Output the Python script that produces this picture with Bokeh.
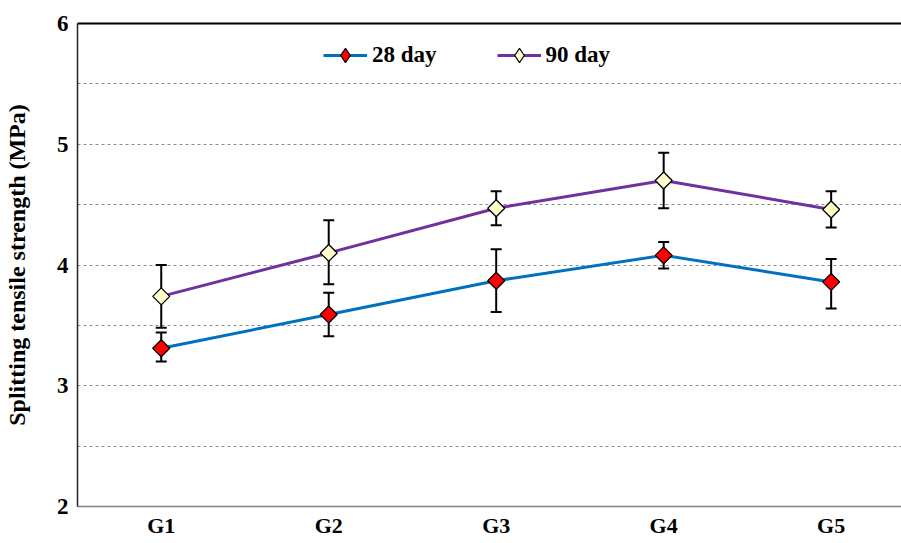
import math
from bokeh.plotting import figure
from bokeh.models import (FixedTicker, LinearAxis, Range1d, Legend, LegendItem,
                          ColumnDataSource)
from bokeh.embed import file_html
from bokeh.resources import INLINE

groups = ["G1", "G2", "G3", "G4", "G5"]
day28 = [3.31, 3.59, 3.87, 4.08, 3.86]
day28_hi = [3.44, 3.77, 4.13, 4.19, 4.05]
day28_lo = [3.20, 3.41, 3.61, 3.97, 3.64]
day90 = [3.74, 4.10, 4.47, 4.70, 4.46]
day90_hi = [4.00, 4.37, 4.61, 4.93, 4.61]
day90_lo = [3.48, 3.84, 4.33, 4.47, 4.31]
y_ticks = [2, 3, 4, 5, 6]
grid_ticks = [2.5, 3.0, 3.5, 4.0, 4.5, 5.0, 5.5]

xs = list(range(len(groups)))
FONT = "Liberation Serif"

p = figure(width=901, height=543, output_backend="svg", toolbar_location=None,
           x_range=Range1d(-0.5, 4.42), y_range=Range1d(2, 6),
           min_border_left=77, min_border_right=0, min_border_top=23,
           min_border_bottom=37)
p.outline_line_color = None
p.background_fill_color = "white"
p.border_fill_color = "white"

# axes
p.xaxis.ticker = FixedTicker(ticks=xs)
p.xaxis.major_label_overrides = {i: g for i, g in enumerate(groups)}
p.xaxis.major_tick_line_color = None
p.xaxis.minor_tick_line_color = None
p.xaxis.major_tick_out = 0
p.xaxis.major_label_standoff = 6
p.xaxis.major_label_text_font = FONT
p.xaxis.major_label_text_font_style = "bold"
p.xaxis.major_label_text_font_size = "22px"
p.xaxis.major_label_text_color = "black"
p.xaxis.axis_line_color = "#808080"
p.xaxis.axis_line_width = 1.5

p.yaxis.ticker = FixedTicker(ticks=y_ticks)
p.yaxis.major_tick_line_color = None
p.yaxis.minor_tick_line_color = None
p.yaxis.major_tick_out = 0
p.yaxis.major_label_standoff = 9
p.yaxis.major_label_text_font = FONT
p.yaxis.major_label_text_font_style = "bold"
p.yaxis.major_label_text_font_size = "23px"
p.yaxis.major_label_text_color = "black"
p.yaxis.axis_line_color = "#222222"
p.yaxis.axis_line_width = 1.5
p.yaxis.axis_label = "Splitting tensile strength (MPa)"
p.yaxis.axis_label_text_font = FONT
p.yaxis.axis_label_text_font_style = "bold"
p.yaxis.axis_label_text_font_size = "24px"
p.yaxis.axis_label_text_color = "black"
p.yaxis.axis_label_standoff = 24

top_axis = LinearAxis(major_tick_line_color=None, minor_tick_line_color=None,
                      major_label_text_font_size="0px", axis_line_color="black",
                      axis_line_width=2, major_tick_out=0, major_tick_in=0)
top_axis.ticker = FixedTicker(ticks=[])
p.add_layout(top_axis, "above")

# grid
p.xgrid.visible = False
p.ygrid.ticker = FixedTicker(ticks=grid_ticks)
p.ygrid.grid_line_color = "#8c8c8c"
p.ygrid.grid_line_dash = "3 3"
p.ygrid.grid_line_width = 1

series = [
    (day28, day28_hi, day28_lo, "#0070C0", "#FF0000", "28 day"),
    (day90, day90_hi, day90_lo, "#7030A0", "#FFFFCC", "90 day"),
]

items = []
for vals, hi, lo, lc, fc, name in series:
    src = ColumnDataSource(dict(x=xs, y=vals, hi=hi, lo=lo))
    p.line("x", "y", source=src, line_color=lc, line_width=3)
    p.segment("x", "lo", "x", "hi", source=src, line_color="black", line_width=2)
    p.scatter("x", "hi", source=src, marker="dash", size=11, line_color="black", line_width=2)
    p.scatter("x", "lo", source=src, marker="dash", size=11, line_color="black", line_width=2)
    p.scatter("x", "y", source=src, marker="square", angle=math.pi / 4, size=12,
              fill_color=fc, line_color="black", line_width=1.3)
    # legend-only renderers (nothing drawn on plot)
    lr = p.line([float("nan")], [float("nan")], line_color=lc, line_width=3)
    mr = p.scatter([float("nan")], [float("nan")], marker="diamond",
                   size=15, fill_color=fc, line_color="black", line_width=1.2)
    items.append(LegendItem(label=name, renderers=[lr, mr]))

legend = Legend(items=items, orientation="horizontal", location=(246, 433),
                border_line_color=None, background_fill_alpha=0,
                padding=0, margin=0, spacing=60, glyph_width=44, glyph_height=36,
                label_standoff=5, label_text_font=FONT, label_text_font_style="bold",
                label_text_font_size="23px", label_text_color="black")
p.add_layout(legend, "center")

open("out.html", "w").write(file_html(p, INLINE))
